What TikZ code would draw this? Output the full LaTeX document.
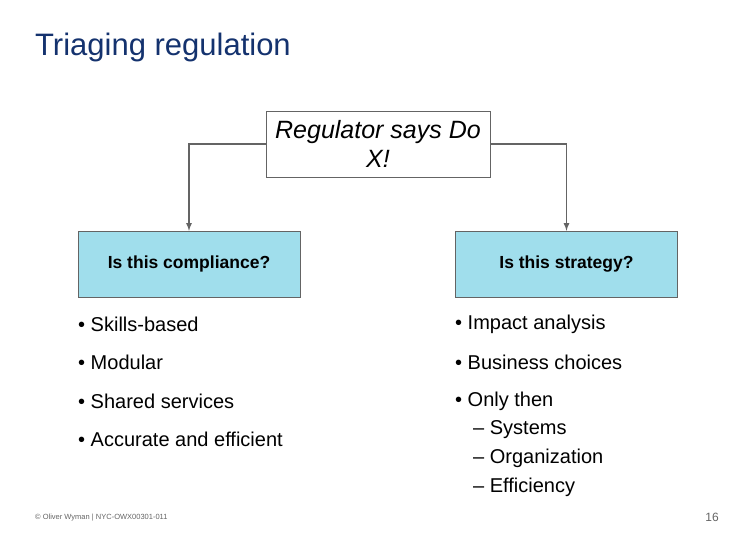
\documentclass[tikz,border=0pt]{standalone}
\usepackage{fontspec}
\setmainfont{Liberation Sans}
\definecolor{titleblue}{RGB}{20,50,110}
\definecolor{boxcyan}{RGB}{160,222,236}
\definecolor{linegray}{RGB}{100,100,100}
\begin{document}
\begin{tikzpicture}[x=1pt,y=-1pt]
		\tikzstyle{every node}+=[inner sep=0pt]
		\tikzstyle{qbox}=[draw=linegray,fill=boxcyan,minimum width=222pt,minimum height=66pt,font=\fontsize{17.5}{20}\selectfont\bfseries]
		\tikzstyle{item}=[anchor=west,font=\fontsize{20}{22}\selectfont]
		\useasboundingbox (0,0) rectangle (756,540);
		\node [anchor=west,text=titleblue,font=\fontsize{31}{36}\selectfont] (title) at (35,47) {Triaging regulation};
		\node [draw=linegray,fill=white,minimum width=224pt,minimum height=66pt,align=center,font=\fontsize{25}{29}\selectfont\itshape] (reg) at (378,144) {Regulator says Do\\X!};
		\node [qbox] (comp) at (189,264) {Is this compliance?};
		\node [qbox] (strat) at (566.5,264) {Is this strategy?};
		\draw [linegray,line width=1.6pt,-latex] (reg.west) -| (comp.north);
		\draw [linegray,line width=1.6pt,-latex] (reg.east) -| (strat.north);
		\node [item] (l1) at (78,324) {•\ Skills-based};
		\node [item] (l2) at (78,362) {•\ Modular};
		\node [item] (l3) at (78,401) {•\ Shared services};
		\node [item] (l4) at (78,439) {•\ Accurate and efficient};
		\node [item] (r1) at (455,324) {•\ Impact analysis};
		\node [item] (r2) at (455,362) {•\ Business choices};
		\node [item] (r3) at (455,401) {•\ Only then};
		\node [item] (r4) at (473,430) {– Systems};
		\node [item] (r5) at (473,458) {– Organization};
		\node [item] (r6) at (473,487) {– Efficiency};
		\node [anchor=west,text=linegray,font=\fontsize{7.5}{8}\selectfont] (foot) at (35,518) {© Oliver Wyman | NYC-OWX00301-011};
		\node [anchor=east,text=linegray,font=\fontsize{12}{14}\selectfont] (page) at (719,517) {16};
	\end{tikzpicture}
\end{document}
